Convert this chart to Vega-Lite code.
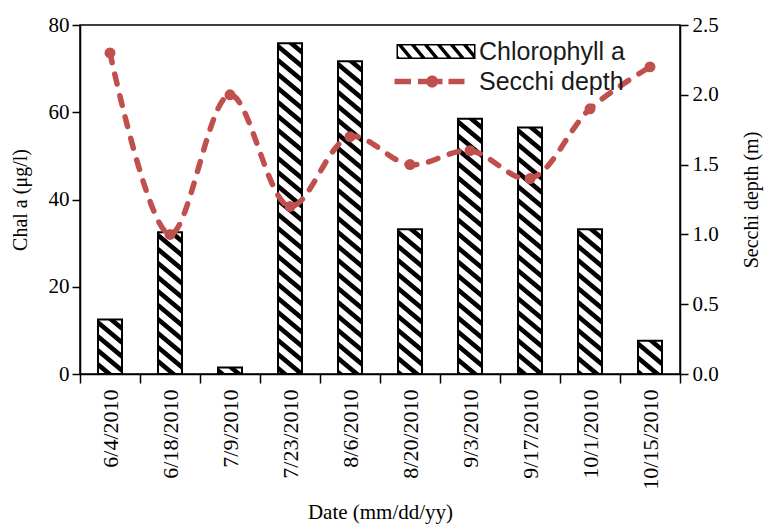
{
  "$schema": "https://vega.github.io/schema/vega-lite/v6.json",
  "width": 600,
  "height": 349,
  "autosize": {"type": "none"},
  "padding": {"left": 80, "top": 25, "right": 86, "bottom": 152},
  "background": "white",
  "config": {
    "view": {"stroke": "#000", "strokeWidth": 1.5},
    "axis": {
      "labelFont": "Liberation Serif",
      "titleFont": "Liberation Serif",
      "labelColor": "#000",
      "titleColor": "#000",
      "titleFontWeight": "normal",
      "domainColor": "#000",
      "tickColor": "#000",
      "domainWidth": 1.5,
      "tickWidth": 1.5,
      "grid": false,
      "zindex": 1,
      "labelFontSize": 21,
      "titleFontSize": 21
    },
    "legend": {
      "orient": "none",
      "legendX": 343.5,
      "legendY": 14,
      "direction": "vertical",
      "symbolSize": 400,
      "symbolStrokeWidth": 0,
      "symbolOpacity": 1,
      "labelFont": "Liberation Sans",
      "labelFontSize": 25,
      "labelColor": "#1a1a1a",
      "labelOffset": 30.5,
      "labelLimit": 400,
      "rowPadding": 4,
      "padding": 0
    }
  },
  "data": {
    "values": [
      {"date": "6/4/2010", "chl": 12.5, "secchi": 2.3},
      {"date": "6/18/2010", "chl": 32.5, "secchi": 1.0},
      {"date": "7/9/2010", "chl": 1.5, "secchi": 2.0},
      {"date": "7/23/2010", "chl": 75.8, "secchi": 1.2},
      {"date": "8/6/2010", "chl": 71.7, "secchi": 1.7},
      {"date": "8/20/2010", "chl": 33.2, "secchi": 1.5},
      {"date": "9/3/2010", "chl": 58.5, "secchi": 1.6},
      {"date": "9/17/2010", "chl": 56.5, "secchi": 1.4},
      {"date": "10/1/2010", "chl": 33.2, "secchi": 1.9},
      {"date": "10/15/2010", "chl": 7.6, "secchi": 2.2}
    ]
  },
  "layer": [
    {
      "encoding": {
        "x": {
          "field": "date", "type": "nominal", "sort": null,
          "scale": {"paddingInner": 0, "paddingOuter": 0},
          "axis": {"title": "Date (mm/dd/yy)", "labelAngle": 270, "tickBand": "extent", "tickSize": 9, "labelPadding": 6, "titlePadding": 12, "labelFontSize": 22}
        },
        "y": {
          "field": "chl", "type": "quantitative",
          "scale": {"domain": [0, 80], "nice": false, "zero": true},
          "axis": {"title": "Chal a (μg/l)", "values": [0, 20, 40, 60, 80], "tickSize": 8, "labelPadding": 3, "titlePadding": 18, "orient": "left", "titleFontSize": 20}
        }
      },
      "layer": [
        {"mark": {"type": "bar", "width": {"band": 0.4}, "fill": "#fff", "stroke": "#000", "strokeWidth": 2}},
        {"mark": {"type": "point", "clip": true, "filled": true, "color": "#000", "opacity": 1, "strokeWidth": 0, "size": 40000,
          "shape": "M-0.12,0L0.12,0.2L0.12,0.26L-0.12,0.06ZM-0.12,0.14L0.12,0.34L0.12,0.4L-0.12,0.2ZM-0.12,0.28L0.12,0.48L0.12,0.54L-0.12,0.34ZM-0.12,0.42L0.12,0.62L0.12,0.68L-0.12,0.48ZM-0.12,0.56L0.12,0.76L0.12,0.82L-0.12,0.62ZM-0.12,0.7L0.12,0.9L0.12,0.96L-0.12,0.76ZM-0.12,0.84L0.12,1.04L0.12,1.1L-0.12,0.9ZM-0.12,0.98L0.12,1.18L0.12,1.24L-0.12,1.04ZM-0.12,1.12L0.12,1.32L0.12,1.38L-0.12,1.18ZM-0.12,1.26L0.12,1.46L0.12,1.52L-0.12,1.32ZM-0.12,1.4L0.12,1.6L0.12,1.66L-0.12,1.46ZM-0.12,1.54L0.12,1.74L0.12,1.8L-0.12,1.6ZM-0.12,1.68L0.12,1.88L0.12,1.94L-0.12,1.74ZM-0.12,1.82L0.12,2.02L0.12,2.08L-0.12,1.88ZM-0.12,1.96L0.12,2.16L0.12,2.22L-0.12,2.02ZM-0.12,2.1L0.12,2.3L0.12,2.36L-0.12,2.16ZM-0.12,2.24L0.12,2.44L0.12,2.5L-0.12,2.3ZM-0.12,2.38L0.12,2.58L0.12,2.64L-0.12,2.44ZM-0.12,2.52L0.12,2.72L0.12,2.78L-0.12,2.58ZM-0.12,2.66L0.12,2.86L0.12,2.92L-0.12,2.72ZM-0.12,2.8L0.12,3L0.12,3.06L-0.12,2.86ZM-0.12,2.94L0.12,3.14L0.12,3.2L-0.12,3ZM-0.12,3.08L0.12,3.28L0.12,3.34L-0.12,3.14ZM-0.12,3.22L0.12,3.42L0.12,3.48L-0.12,3.28ZM0.048,0L0.12,0.06L0.12,0.12L-0.024,0Z"}}
      ]
    },
    {
      "encoding": {
        "x": {
          "field": "date", "type": "nominal", "sort": null,
          "scale": {"paddingInner": 0, "paddingOuter": 0},
          "axis": {"title": "Date (mm/dd/yy)", "labelAngle": 270, "tickBand": "extent", "tickSize": 9, "labelPadding": 6, "titlePadding": 12, "labelFontSize": 22}
        },
        "y": {
          "field": "secchi", "type": "quantitative",
          "scale": {"domain": [0, 2.5], "nice": false},
          "axis": {"title": "Secchi depth (m)", "orient": "right", "values": [0, 0.5, 1, 1.5, 2, 2.5], "format": ".1f", "tickSize": 8, "labelPadding": 4, "titlePadding": 23, "titleAngle": 270, "titleBaseline": "top", "titleFontSize": 20}
        }
      },
      "layer": [
        {"mark": {"type": "line", "interpolate": "catmull-rom", "color": "#c0504d", "strokeWidth": 5.5, "strokeDash": [10, 12], "strokeCap": "round"}},
        {"mark": {"type": "point", "filled": true, "opacity": 1, "size": 120, "color": "#c0504d"}}
      ]
    },
    {
      "data": {"values": [{"series": "Chlorophyll a"}, {"series": "Secchi depth"}]},
      "mark": {"type": "point", "filled": true, "opacity": 0},
      "encoding": {
        "color": {
          "field": "series", "type": "nominal",
          "scale": {"domain": ["Chlorophyll a", "Secchi depth"], "range": ["#000000", "#c0504d"]},
          "legend": {"title": null}
        },
        "shape": {
          "field": "series", "type": "nominal",
          "scale": {"domain": ["Chlorophyll a", "Secchi depth"], "range": [
            "M-3.95,-0.75H3.95V0.75H-3.95ZM-3.8,-0.6V0.6H3.8V-0.6ZM-3.8,-0.6L-3.35,-0.6L-2.35,0.6L-2.8,0.6ZM-2.5,-0.6L-2.05,-0.6L-1.05,0.6L-1.5,0.6ZM-1.2,-0.6L-0.75,-0.6L0.25,0.6L-0.2,0.6ZM0.1,-0.6L0.55,-0.6L1.55,0.6L1.1,0.6ZM1.4,-0.6L1.85,-0.6L2.85,0.6L2.4,0.6ZM2.7,-0.6L3.15,-0.6L3.8,0.18L3.8,0.6L3.7,0.6ZM-3.8,0.42L-3.65,0.6L-3.8,0.6Z",
            "M-4.15,-0.275L-2.5,-0.275L-2.5,0.275L-4.15,0.275ZM-1.8,-0.275L0.65,-0.275L0.65,0.275L-1.8,0.275ZM1.25,-0.275L2.85,-0.275L2.85,0.275L1.25,0.275ZM-0.98,0A0.6,0.6 0 1 1 0.22,0A0.6,0.6 0 1 1 -0.98,0Z"
          ]},
          "legend": {"title": null}
        }
      }
    }
  ],
  "resolve": {"scale": {"y": "independent"}}
}
